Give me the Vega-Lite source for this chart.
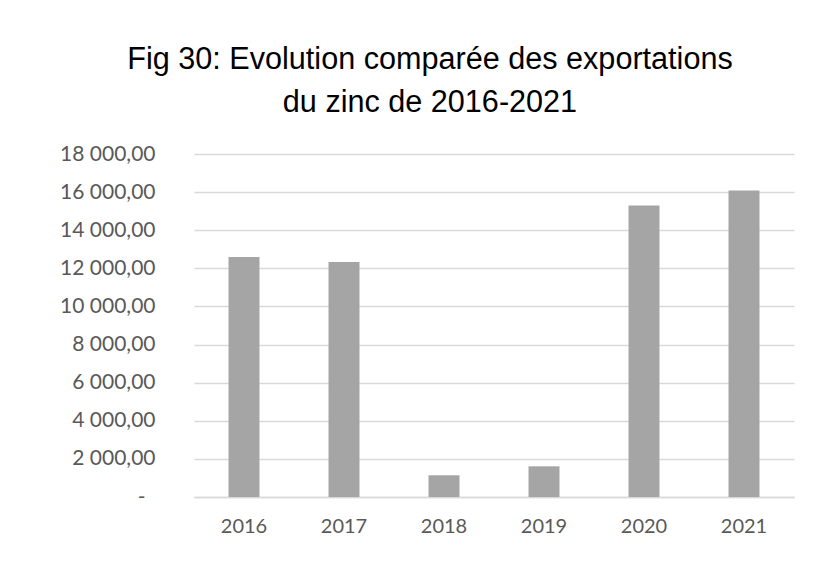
{
  "$schema": "https://vega.github.io/schema/vega-lite/v6.json",
  "width": 600,
  "height": 343,
  "autosize": {"type": "none"},
  "padding": {"left": 194, "top": 154, "right": 42, "bottom": 88},
  "background": "white",
  "title": {
    "text": ["Fig 30: Evolution comparée des exportations", "du zinc de 2016-2021"],
    "font": "Liberation Sans",
    "fontSize": 30.6,
    "fontWeight": "normal",
    "color": "#000000",
    "lineHeight": 43,
    "anchor": "middle",
    "dx": -64,
    "baseline": "alphabetic",
    "offset": 0
  },
  "data": {
    "values": [
      {"annee": "2016", "exportations": 12590},
      {"annee": "2017", "exportations": 12330},
      {"annee": "2018", "exportations": 1140},
      {"annee": "2019", "exportations": 1610},
      {"annee": "2020", "exportations": 15300},
      {"annee": "2021", "exportations": 16090}
    ]
  },
  "mark": {"type": "bar", "color": "#a5a5a5"},
  "encoding": {
    "x": {
      "field": "annee",
      "type": "ordinal",
      "scale": {"paddingInner": 0.69, "paddingOuter": 0.345},
      "axis": {
        "title": null,
        "labelAngle": 0,
        "ticks": false,
        "domainColor": "#d9d9d9",
        "domainWidth": 1.5,
        "labelFont": "Lato",
        "labelFontSize": 20,
        "labelColor": "#595959",
        "labelPadding": 19
      }
    },
    "y": {
      "field": "exportations",
      "type": "quantitative",
      "scale": {"domain": [0, 18000], "nice": false},
      "axis": {
        "title": null,
        "values": [0, 2000, 4000, 6000, 8000, 10000, 12000, 14000, 16000, 18000],
        "labelExpr": "datum.value == 0 ? '-' : format(datum.value, ',.2f')",
        "ticks": false,
        "domain": false,
        "gridColor": "#d9d9d9",
        "gridWidth": 1.5,
        "labelFont": "Lato",
        "labelFontSize": 21,
        "labelColor": "#595959",
        "labelPadding": {"condition": {"test": "datum.value == 0", "value": 49}, "value": 39}
      }
    }
  },
  "config": {
    "locale": {
      "number": {"decimal": ",", "thousands": " ", "grouping": [3], "currency": ["", " €"]}
    },
    "view": {"stroke": null}
  }
}
